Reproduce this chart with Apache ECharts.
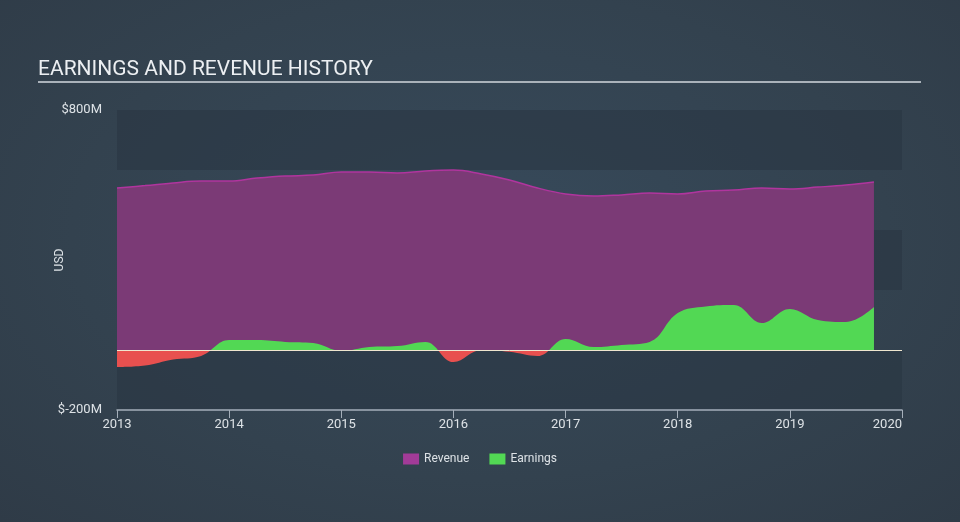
<!DOCTYPE html>
<html>
<head>
<meta charset="utf-8">
<script src="https://cdn.jsdelivr.net/npm/echarts@6/dist/echarts.min.js"></script>
<style>
html,body{margin:0;padding:0;width:960px;height:522px;overflow:hidden;
background:radial-gradient(ellipse at 50% 45%, #374a5b 0%, #33424f 60%, #2f3b47 100%);}
#c{width:960px;height:522px;}
</style>
</head>
<body>
<div id="c"></div>
<script>
const quarters = [2013,2013.25,2013.5,2013.75,2014,2014.25,2014.5,2014.75,2015,2015.25,2015.5,2015.75,2016,2016.25,2016.5,2016.75,2017,2017.25,2017.5,2017.75,2018,2018.25,2018.5,2018.75,2019,2019.25,2019.5,2019.75];
const revenue = [540,548,557,563,563,573,580,583,593,593,590,597,600,587,567,540,520,513,517,523,520,530,533,540,537,543,550,560];
const earnings = [-57,-52,-32,-20,33,33,27,23,-3,10,13,27,-40,0,-6,-20,37,10,17,27,123,145,150,90,137,100,93,143];
const yearTicks = [2013,2014,2015,2016,2017,2018,2019,2020];

const chart = echarts.init(document.getElementById('c'));
const pair = (xs, ys) => xs.map((x, i) => [x, ys[i]]);
chart.setOption({
  backgroundColor: 'transparent',
  animation: false,
  title: {
    text: 'EARNINGS AND REVENUE HISTORY',
    left: 33, top: 54,
    textStyle: {color: '#eceff2', fontSize: 21, fontWeight: 'normal', fontFamily: 'Roboto'}
  },
  graphic: [{
    type: 'line', shape: {x1: 38, y1: 82, x2: 921, y2: 82},
    style: {stroke: '#aab2ba', lineWidth: 2}
  }, {
    type: 'text', x: 60, y: 260, rotation: Math.PI / 2,
    style: {text: 'USD', fill: '#dde2e6', font: '12px Roboto', align: 'center', verticalAlign: 'middle'}
  }],
  legend: {
    top: 448, left: 'center', itemGap: 20,
    itemWidth: 16, itemHeight: 11,
    textStyle: {color: '#dde2e6', fontSize: 12, fontFamily: 'Roboto'},
    data: [
      {name: 'Revenue', icon: 'rect', itemStyle: {color: '#a23b98'}},
      {name: 'Earnings', icon: 'rect', itemStyle: {color: '#52d854'}}
    ]
  },
  grid: {left: 117, right: 58, top: 110, bottom: 112},
  xAxis: {
    type: 'value', min: 2013, max: 2020, interval: 1,
    axisLine: {show: true, onZero: false, lineStyle: {color: '#a5afba', width: 1.5}},
    axisTick: {show: true, length: 8, lineStyle: {color: '#a5afba'}},
    axisLabel: {color: '#dde2e6', fontSize: 13, margin: 8, fontFamily: 'Roboto',
      alignMaxLabel: 'right', formatter: v => String(v)},
    splitLine: {show: false}
  },
  yAxis: {
    type: 'value', min: -200, max: 800, interval: 200,
    axisLine: {show: false}, axisTick: {show: false},
    axisLabel: {color: '#dde2e6', fontSize: 13, margin: 15, fontFamily: 'Roboto',
      formatter: v => (v === 800 || v === -200) ? '$' + v + 'M' : ''},
    splitLine: {show: false},
    splitArea: {show: true, areaStyle: {color: ['rgba(40,52,66,0.55)', 'rgba(0,0,0,0)']}}
  },
  visualMap: {
    show: false, type: 'piecewise', seriesIndex: 1, dimension: 1,
    pieces: [{gt: 0, lte: 1000, color: '#52d854'}, {gte: -1000, lte: 0, color: '#e8504f'}]
  },
  series: [
    {
      name: 'Revenue', type: 'line', smooth: 0.4, symbol: 'none',
      data: pair(quarters, revenue),
      lineStyle: {color: '#b0359e', width: 1.5},
      itemStyle: {color: '#a23b98'},
      areaStyle: {color: '#7b3a76', opacity: 1}
    },
    {
      name: 'Earnings', type: 'line', smooth: 0.4, symbol: 'none',
      data: pair(quarters, earnings),
      lineStyle: {width: 0},
      itemStyle: {color: '#52d854'},
      areaStyle: {opacity: 1}
    },
    {
      name: 'zero', type: 'line', data: [], symbol: 'none',
      markLine: {
        silent: true, symbol: 'none', label: {show: false},
        lineStyle: {color: '#efe6cf', width: 1, type: 'solid'},
        data: [{yAxis: 0}]
      }
    }
  ]
});
</script>
</body>
</html>
